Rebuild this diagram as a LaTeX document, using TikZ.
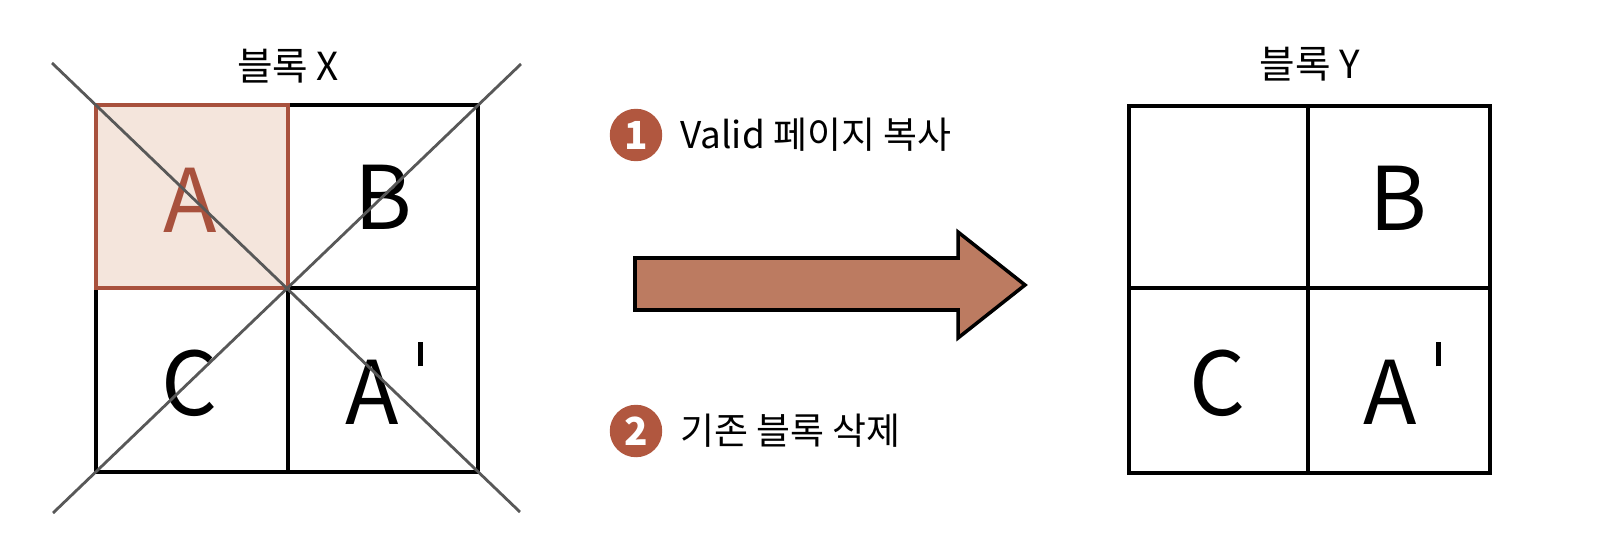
\documentclass[tikz,border=0pt]{standalone}
\usepackage{fontspec}
\setmainfont{Noto Sans CJK KR}
\definecolor{rust}{HTML}{A8513D}
\definecolor{rustfill}{HTML}{F4E5DC}
\definecolor{arrowfill}{HTML}{BC7B61}
\definecolor{dotfill}{HTML}{B1573F}
\definecolor{crossgray}{HTML}{585858}

\newcommand{\primetick}{\hspace{11pt}\raisebox{33pt}{\rule{2.8pt}{14pt}}}

\tikzset{
  gridline/.style={line width=2pt, draw=black},
  letter/.style={font=\fontsize{50}{50}\selectfont, inner sep=0pt},
  blocktitle/.style={font=\fontsize{22}{22}\selectfont, inner sep=0pt},
  stepdot/.style={circle, fill=dotfill, minimum size=1.05cm, inner sep=0pt,
    text=white, font=\fontsize{22}{22}\selectfont\bfseries},
  steptext/.style={anchor=west, font=\fontsize{21}{21}\selectfont, inner sep=0pt},
}

\begin{document}
\begin{tikzpicture}[x=0.02cm, y=-0.02cm]
\useasboundingbox (0,0) rectangle (1614,558);

% Define the grid lines (left, middle, right / top, middle, bottom)
\def\xl{96} \def\xm{288} \def\xr{478}
\def\yt{105} \def\ym{288} \def\yb{472}

% --- block X ---
\fill[rustfill] (\xl,\yt) rectangle (\xm,\ym);
\draw[gridline] (\xl,\yt) rectangle (\xr,\yb);
\draw[gridline] (\xm,\yt) -- (\xm,\yb);
\draw[gridline] (\xl,\ym) -- (\xr,\ym);
\draw[line width=2pt, draw=rust] (\xl,\yt) rectangle (\xm,\ym);

\node[blocktitle] (xtitle) at (288,66) {블록 X};
\node[letter, text=rust] (xa) at (190,200) {A};
\node[letter] (xb) at (383,197) {B};
\node[letter] (xc) at (190,383) {C};
\node[letter] (xd) at (384,383) {A\primetick};

% Cross over block X
\coordinate (c1) at (52,63);
\coordinate (c2) at (520,512);
\coordinate (c3) at (53,513);
\coordinate (c4) at (521,64);
\draw[crossgray, line width=1.6pt] (c1) -- (c2);
\draw[crossgray, line width=1.6pt] (c3) -- (c4);

% --- big arrow ---
\draw[line width=2pt, fill=arrowfill, line join=miter]
  (635,258) -- (958,258) -- (958,232) -- (1025,285) -- (958,338) -- (958,310) -- (635,310) -- cycle;

% Steps
\node[stepdot] (s1) at (636,135) {1};
\node[steptext] (t1) at (680,135) {Valid 페이지 복사};
\node[stepdot] (s2) at (636,431) {2};
\node[steptext] (t2) at (680,431) {기존 블록 삭제};

% --- block Y ---
\def\xl{1129} \def\xm{1308} \def\xr{1490}
\def\yt{106} \def\ym{288} \def\yb{473}
\draw[gridline] (\xl,\yt) rectangle (\xr,\yb);
\draw[gridline] (\xm,\yt) -- (\xm,\yb);
\draw[gridline] (\xl,\ym) -- (\xr,\ym);

\node[blocktitle] (ytitle) at (1310,64) {블록 Y};
\node[letter] (yb) at (1398,198) {B};
\node[letter] (yc) at (1218,383) {C};
\node[letter] (yd) at (1402,383) {A\primetick};

\end{tikzpicture}
\end{document}
